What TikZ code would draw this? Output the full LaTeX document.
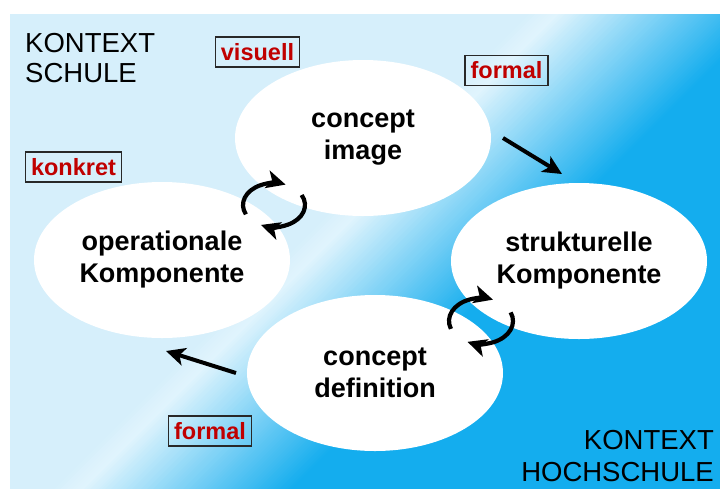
\documentclass[tikz,border=0pt]{standalone}
\usepackage{fontspec}
\setmainfont{Liberation Sans}
\usetikzlibrary{shapes.geometric,arrows.meta}
\definecolor{bglight}{RGB}{214,239,251}
\definecolor{bgwhite}{RGB}{224,244,253}
\definecolor{bgdark}{RGB}{20,173,238}
\definecolor{lblred}{RGB}{192,0,0}
\definecolor{lblframe}{RGB}{40,40,40}
\begin{document}
\begin{tikzpicture}[x=1pt,y=-1pt,
  blob/.style={ellipse, fill=white, minimum width=256pt, minimum height=156pt, inner sep=0pt, align=center, font=\fontsize{27}{32}\selectfont\bfseries},
  lbl/.style={draw=lblframe, line width=1.3pt, text=lblred, font=\fontsize{23.5}{26}\selectfont\bfseries, minimum height=30pt, inner xsep=5.5pt, inner ysep=0pt},
  ctx/.style={inner sep=0pt},
  flow/.style={line width=4pt, -{Stealth[length=19pt,width=18pt,inset=5pt]}},
  cyc/.style={line width=4.2pt, -{Stealth[length=19pt,width=18pt,inset=5pt]}},
  ]
\useasboundingbox (0,0) rectangle (720,488);
\fill[white] (0,0) rectangle (720,488);
\begin{scope}
  \clip (10,14) rectangle (725,495);
  \fill[bglight] (10,14) rectangle (725,495);
  \foreach \i in {0,...,9} {
    \pgfmathsetmacro\a{540+3*\i}
    \pgfmathtruncatemacro\p{10*\i+5}
    \fill[bgwhite!\p!bglight] (\a,0) -- (\a+3.6,0) -- (\a+3.6-600,600) -- (\a-600,600) -- cycle;
  }
  \foreach \i in {0,...,69} {
    \pgfmathsetmacro\a{570+3*\i}
    \pgfmathtruncatemacro\p{100*(\i+0.5)/70}
    \fill[bgdark!\p!bgwhite] (\a,0) -- (\a+3.6,0) -- (\a+3.6-600,600) -- (\a-600,600) -- cycle;
  }
  \fill[bgdark] (780,0) -- (1400,0) -- (800,600) -- (180,600) -- cycle;
\end{scope}

\node[blob] (ci) at (363,138) {concept\\image};
\node[blob] (op) at (162,260) {operationale\\Komponente};
\node[blob] (sk) at (579,261) {strukturelle\\Komponente};
\node[blob] (cd) at (375,373) {concept\\definition};

\node[lbl] (vis) at (257.5,52) {visuell};
\node[lbl] (kon) at (73.5,167) {konkret};
\node[lbl] (foa) at (506.5,70.5) {formal};
\node[lbl] (fob) at (210,431) {formal};

\node[ctx, anchor=north west, align=left, font=\fontsize{27.5}{30}\selectfont] (ks) at (25,33) {KONTEXT\\SCHULE};
\node[ctx, anchor=south east, align=right, font=\fontsize{27.5}{32}\selectfont] (kh) at (714,482) {KONTEXT\\HOCHSCHULE};

\coordinate (a1s) at (503,138);
\coordinate (a1e) at (562,174);
\draw[flow] (a1s) -- (a1e);
\coordinate (a2s) at (236,373);
\coordinate (a2e) at (166,351);
\draw[flow] (a2s) -- (a2e);

\coordinate (c1) at (274,205);
\coordinate (c2) at (481,321);
\draw[cyc] ([shift={(155:31 and 22)}]c1) arc[start angle=155, end angle=292, x radius=31, y radius=22];
\draw[cyc] ([shift={(-27:31 and 22)}]c1) arc[start angle=-27, end angle=115, x radius=31, y radius=22];
\draw[cyc] ([shift={(160:32 and 23)}]c2) arc[start angle=160, end angle=292, x radius=32, y radius=23];
\draw[cyc] ([shift={(-22:32 and 23)}]c2) arc[start angle=-22, end angle=115, x radius=32, y radius=23];
\end{tikzpicture}
\end{document}
